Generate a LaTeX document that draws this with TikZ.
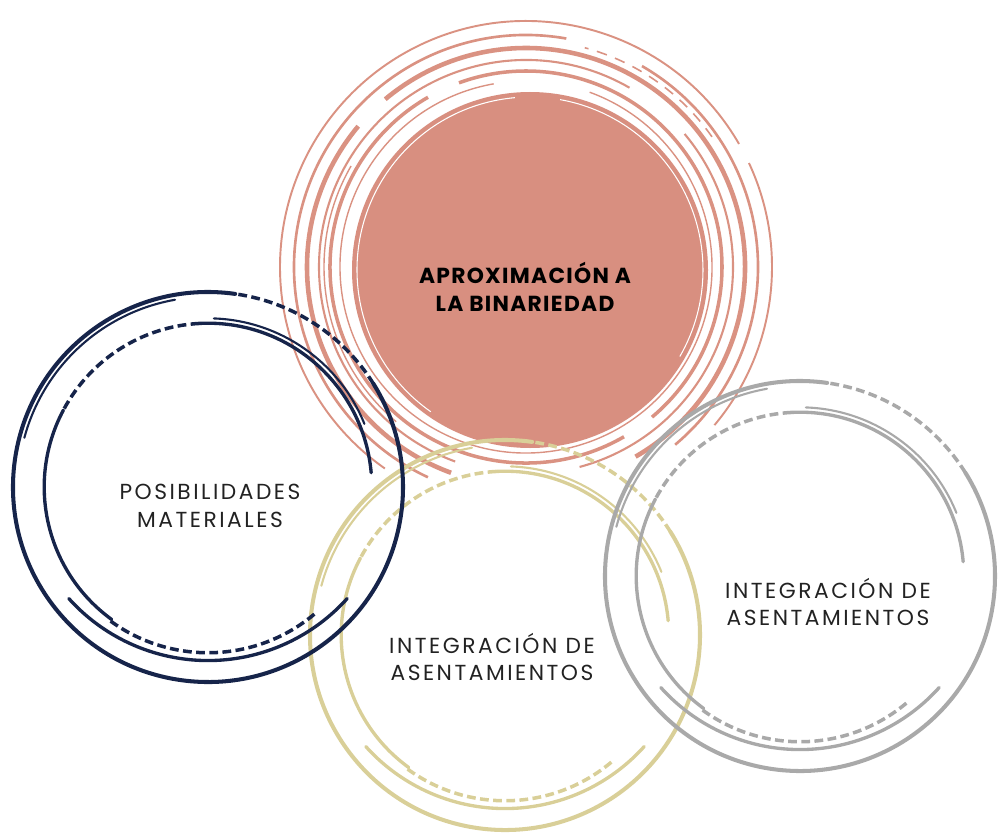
\documentclass[tikz,border=0pt]{standalone}
\usepackage{fontspec}
\setmainfont{Poppins}
\newfontfamily\labelfont[LetterSpace=11.5]{Poppins}
\newfontfamily\titlefont[LetterSpace=6]{Poppins}
\usepackage{tikz}

\definecolor{rosa}{HTML}{D88F80}
\definecolor{rosaring}{HTML}{DA9282}
\definecolor{marino}{HTML}{16244A}
\definecolor{arena}{HTML}{D9CF98}
\definecolor{gris}{HTML}{A9A9A9}
\definecolor{texto}{HTML}{222222}

\tikzset{
    brush-thick/.style = {line width=2.3pt, line cap=round},
    brush-mid/.style = {line width=1.9pt, line cap=round},
    brush-thin/.style = {line width=1.2pt, line cap=round},
    brush-dash/.style = {line width=2pt, dash pattern=on 5pt off 2.5pt},
    ring-label/.style = {text=texto, align=center, font=\labelfont\fontsize{12.4}{15.6}\selectfont},
    title-label/.style = {text=black, align=center, font=\titlefont\bfseries\fontsize{12.4}{15.6}\selectfont},
}

% one hand-drawn ring, radius 195 px
\newcommand{\brushring}[2]{%
  \begin{scope}[shift={#1}, scale=195, color=#2]
    \draw[brush-thick] (82:1) arc (82:392:1);
    \draw[brush-dash] (32:1) arc (32:82:1);
    \draw[brush-thin] (100:0.975) arc (100:165:0.975);
    \draw[brush-mid, shift={(0,0.07)}] (222:0.96) arc (222:318:0.96);
    \draw[brush-mid] (152:0.84) arc (152:234:0.84);
    \draw[brush-dash] (234:0.85) arc (234:310:0.85);
    \draw[brush-dash] (93:0.84) arc (93:152:0.84);
    \draw[brush-mid] (93:0.84) arc (93:5:0.84);
    \draw[brush-thin] (88:0.865) arc (88:22:0.865);
  \end{scope}}

\begin{document}
\begin{tikzpicture}[x=0.02cm, y=0.02cm]
\useasboundingbox (0,0) rectangle (1000,833);

% pink disc and its rings
\fill[rosa] (530,563) circle (178);
\draw[white, line width=0.6pt] (530,563) ++(95:173) arc (95:235:173);
\draw[white, line width=0.6pt] (530,563) ++(330:173) arc (330:440:173);
\begin{scope}[shift={(526,566)}, color=rosaring]
  \draw[line width=0.8pt] (100:186) arc (100:430:186);
  \draw[line width=2pt] (120:196) arc (120:300:196);
  \draw[line width=2pt] (310:196) arc (310:470:196);
  \draw[line width=0.8pt] (150:202) arc (150:230:202);
  \draw[line width=1.2pt] (60:207) arc (60:250:207);
  \draw[line width=1.2pt] (285:207) arc (285:400:207);
  \draw[line width=2.6pt] (140:219) arc (140:250:219);
  \draw[line width=2.6pt] (300:219) arc (300:490:219);
  \draw[line width=0.9pt, dash pattern=on 6pt off 5pt] (35:227) arc (35:75:227);
  \draw[line width=1.5pt] (80:232) arc (80:245:232);
  \draw[line width=1.5pt] (310:232) arc (310:420:232);
  \draw[line width=1.1pt] (30:246) arc (30:235:246);
  \draw[line width=1.1pt] (320:246) arc (320:385:246);
\end{scope}

\brushring{(505,198)}{arena}
\brushring{(208,346)}{marino}
\brushring{(800,257)}{gris}

\node[title-label] (binariedad) at (525,546) {APROXIMACIÓN A\\LA BINARIEDAD};
\node[ring-label] (materiales) at (210,327) {POSIBILIDADES\\MATERIALES};
\node[ring-label] (asentamientos-a) at (492,176) {INTEGRACIÓN DE\\ASENTAMIENTOS};
\node[ring-label] (asentamientos-b) at (828,231) {INTEGRACIÓN DE\\ASENTAMIENTOS};
\end{tikzpicture}
\end{document}
